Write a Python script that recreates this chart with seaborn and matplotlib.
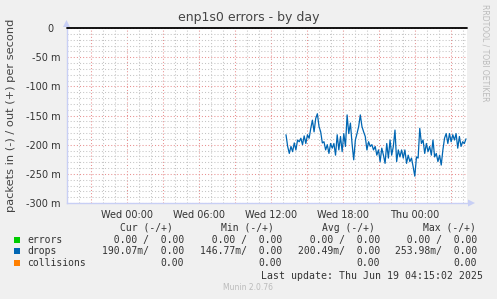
import matplotlib
matplotlib.use("Agg")
import matplotlib.pyplot as plt
import matplotlib.dates as mdates
import matplotlib.ticker as mticker
from matplotlib.patches import Rectangle, Polygon
import seaborn as sns
import pandas as pd

# ---------------- data ----------------
title = "enp1s0 errors - by day"
y_label = "packets in (-) / out (+) per second"
x_start = "2025-06-17 19:00"
x_end = "2025-06-19 04:20"
drop_start = "2025-06-18 13:15"
drop_end = "2025-06-19 04:15"
# drops (in), milli-packets per second, plotted negative
drops_in = [183, 203, 215, 203, 212, 197, 209, 192, 195, 189, 200, 185, 198, 183, 189,
            172, 158, 178, 155, 147, 169, 178, 197, 195, 209, 200, 215, 198, 206, 198,
            218, 183, 209, 186, 212, 181, 203, 149, 181, 163, 198, 226, 192, 181, 169,
            149, 169, 178, 186, 209, 195, 203, 200, 209, 203, 218, 209, 229, 206, 218,
            232, 198, 223, 192, 218, 203, 175, 229, 209, 221, 209, 223, 209, 232, 218,
            229, 223, 238, 254, 221, 223, 172, 198, 192, 215, 198, 212, 203, 218, 192,
            221, 215, 229, 218, 235, 209, 189, 181, 198, 181, 195, 183, 192, 181, 206,
            186, 203, 195, 198, 190]
legend_names = ["errors", "drops", "collisions"]
legend_colors = ["#00CC00", "#0066B3", "#FF8000"]
col_headers = ["Cur (-/+)", "Min (-/+)", "Avg (-/+)", "Max (-/+)"]
errors_vals = ["  0.00 /  0.00", "  0.00 /  0.00", "  0.00 /  0.00", "  0.00 /  0.00"]
drops_vals = ["190.07m/  0.00", "146.77m/  0.00", "200.49m/  0.00", "253.98m/  0.00"]
collisions_vals = ["0.00", "0.00", "0.00", "0.00"]
last_update = "Last update: Thu Jun 19 04:15:02 2025"
footer = "Munin 2.0.76"
side_text = "RRDTOOL / TOBI OETIKER"

# ---------------- figure ----------------
sns.set_theme(style="white")
plt.rcParams['font.family'] = ['DejaVu Sans']

W, H = 497, 299
BG = "#F0F0F0"
TXT = "#333333"
fig = plt.figure(figsize=(W / 100, H / 100), dpi=100, facecolor=BG)


def fx(px):
    return px / W


def fy(py):
    return 1 - py / H


ax = fig.add_axes([fx(67), fy(203), 400 / W, 175 / H])
ax.set_facecolor("white")

df = pd.DataFrame({
    "time": pd.date_range(drop_start, drop_end, periods=len(drops_in)),
    "value": [-v for v in drops_in],
})
sns.lineplot(data=df, x="time", y="value", ax=ax, color="#0066B3", linewidth=0.9, zorder=4)
ax.axhline(0, color="black", lw=1.3, zorder=5, clip_on=False)

ax.set_xlim(pd.Timestamp(x_start), pd.Timestamp(x_end))
ax.set_ylim(-300, 0)
ax.set_xlabel("")
ax.set_ylabel("")

# x ticks
ax.xaxis.set_major_locator(mdates.HourLocator(byhour=range(0, 24, 3)))
ax.xaxis.set_minor_locator(mdates.HourLocator())


def xfmt(x, pos):
    d = mdates.num2date(x)
    return d.strftime("%a %H:%M") if d.hour % 6 == 0 else ""


ax.xaxis.set_major_formatter(mticker.FuncFormatter(xfmt))

# y ticks
ax.yaxis.set_major_locator(mticker.MultipleLocator(50))
ax.yaxis.set_minor_locator(mticker.MultipleLocator(10))


def yfmt(v, pos):
    return "0  " if abs(v) < 1e-9 else f"{v:.0f} m"


ax.yaxis.set_major_formatter(mticker.FuncFormatter(yfmt))

ax.grid(which="major", color="#E89090", linestyle=(0, (1, 2)), linewidth=0.75, zorder=1)
ax.grid(which="minor", color="#C4C4C4", linestyle=(0, (1, 2)), linewidth=0.75, zorder=1)
ax.set_axisbelow(True)

ax.tick_params(which="both", direction="out", length=2, width=0.75, pad=2.5,
               labelsize=7, labelcolor=TXT)
ax.tick_params(which="major", color="#E08080")
ax.tick_params(which="minor", color="#C0C0C0")
ax.tick_params(axis="x", which="major", pad=3)

for s in ["top", "right"]:
    ax.spines[s].set_visible(False)
for s in ["left", "bottom"]:
    ax.spines[s].set_color("#C8CFF5")
    ax.spines[s].set_linewidth(1)

# axis arrows (figure pixels)
fig.add_artist(Polygon([[fx(63), fy(27)], [fx(70), fy(27)], [fx(66.5), fy(20)]],
                       closed=True, transform=fig.transFigure, color="#C8CFF5", lw=0))
fig.add_artist(Polygon([[fx(468), fy(199.5)], [fx(468), fy(206.5)], [fx(475), fy(203)]],
                       closed=True, transform=fig.transFigure, color="#C8CFF5", lw=0))

# title and labels
fig.text(fx(249), fy(18), title, ha="center", va="center", fontsize=9, color="#444444")
fig.text(fx(11), fy(115), y_label, ha="center", va="center", rotation=90,
         fontsize=8.2, color="#444444")
fig.text(fx(485), fy(53), side_text, ha="center", va="center", rotation=270,
         fontsize=5.5, color="#BBBBBB")

# legend
MONO = "DejaVu Sans Mono"
LFS = 7
rows_y = [239.7, 251.3, 263.3]
for name, col, yy in zip(legend_names, legend_colors, rows_y):
    fig.add_artist(Rectangle((fx(14), fy(yy + 3)), 6 / W, 6 / H,
                             transform=fig.transFigure, color=col, lw=0))
    fig.text(fx(27), fy(yy), name, ha="left", va="center", fontsize=LFS,
             family=MONO, color=TXT)

header_x = [173, 274, 375, 476]
value_x = [184, 282, 380, 477]
for hx, htxt in zip(header_x, col_headers):
    fig.text(fx(hx), fy(228), htxt, ha="right", va="center", fontsize=LFS,
             family=MONO, color=TXT)
for vx, e, d, c in zip(value_x, errors_vals, drops_vals, collisions_vals):
    fig.text(fx(vx), fy(rows_y[0]), e, ha="right", va="center", fontsize=LFS,
             family=MONO, color=TXT)
    fig.text(fx(vx), fy(rows_y[1]), d, ha="right", va="center", fontsize=LFS,
             family=MONO, color=TXT)
    fig.text(fx(vx), fy(rows_y[2]), c, ha="right", va="center", fontsize=LFS,
             family=MONO, color=TXT)

fig.text(fx(483), fy(275.7), last_update, ha="right", va="center", fontsize=7.15,
         family=MONO, color=TXT)
fig.text(fx(248), fy(288), footer, ha="center", va="center", fontsize=5.5,
         color="#BBBBBB")

fig.savefig("out.png", dpi=100, facecolor=BG)
